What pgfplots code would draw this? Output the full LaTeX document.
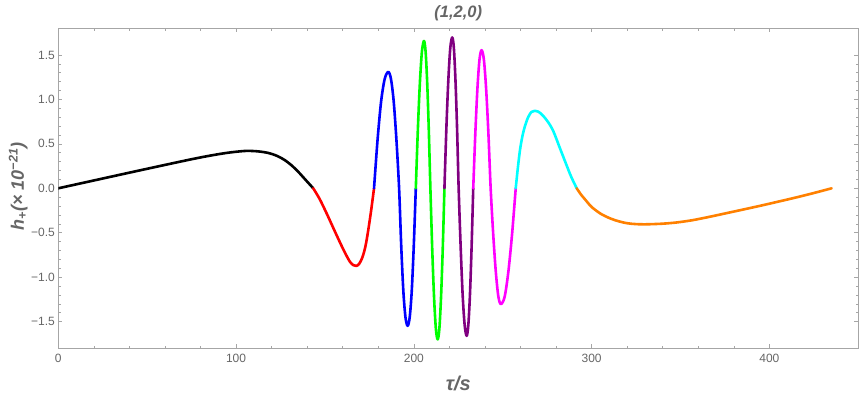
\documentclass[border=0pt]{standalone}
\usepackage{fontspec}
\setmainfont{Liberation Sans}
\usepackage{pgfplots}
\pgfplotsset{compat=1.18}
\definecolor{mmaorange}{rgb}{1,0.5,0}
\definecolor{mmapurple}{rgb}{0.5,0,0.5}
\definecolor{mmagreen}{rgb}{0,1,0}
\definecolor{mmamagenta}{rgb}{1,0,1}
\definecolor{mmacyan}{rgb}{0,1,1}
\definecolor{mmared}{rgb}{1,0,0}
\definecolor{mmablue}{rgb}{0,0,1}
\definecolor{framegray}{gray}{0.65}
\definecolor{labelgray}{gray}{0.4}
\begin{document}
\begin{tikzpicture}
\begin{axis}[
  scale only axis, width=800pt, height=320pt,
  xmin=0, xmax=450, ymin=-1.8, ymax=1.8,
  axis line style={framegray, line width=0.8pt},
  every tick/.style={framegray, line width=0.6pt},
  major tick length=4pt, minor tick length=2.5pt,
  xtick={0,100,200,300,400}, xticklabels={0,100,200,300,400},
  minor x tick num=4,
  ytick={-1.5,-1,-0.5,0,0.5,1,1.5},
  yticklabels={−1.5,−1.0,−0.5,0.0,0.5,1.0,1.5},
  minor y tick num=4,
  tick label style={font=\fontsize{12}{14}\selectfont, text=labelgray},
  xticklabel style={yshift=-2pt},
  every axis plot/.append style={line width=2.6pt, smooth, line cap=round, line join=round},
]
\addplot[black] coordinates {(0,0) (20,0.088) (40,0.176) (60,0.263) (75,0.327) (85,0.366) (95,0.399) (105,0.42) (112,0.416) (118,0.398) (123,0.365) (127,0.322) (131,0.262) (135,0.185) (139,0.097) (143.4,0)};
\addplot[mmared] coordinates {(143.4,0) (147,-0.12) (151,-0.285) (155,-0.46) (158,-0.59) (161,-0.715) (164,-0.825) (166,-0.865) (167.7,-0.873) (169.3,-0.848) (171,-0.78) (172.7,-0.66) (174.2,-0.49) (175.9,-0.26) (177.6,0)};
\addplot[mmablue] coordinates {(177.6,0) (179.6,0.55) (181.6,0.98) (183.6,1.23) (185.6,1.31) (187.13,1.23) (188.65,0.98) (190.18,0.55) (191.7,0) (192.9,-0.65) (194.1,-1.16) (195.3,-1.454) (196.5,-1.547) (197.65,-1.454) (198.8,-1.16) (199.95,-0.65) (201.1,0)};
\addplot[mmagreen] coordinates {(201.1,0) (202.25,0.66) (203.4,1.19) (204.55,1.54) (205.7,1.658) (206.6,1.54) (207.5,1.19) (208.4,0.66) (209.3,0) (210.33,-0.68) (211.35,-1.22) (212.38,-1.58) (213.4,-1.70) (214.35,-1.58) (215.3,-1.22) (216.25,-0.68) (217.2,0)};
\addplot[mmapurple] coordinates {(217.2,0) (218.3,0.68) (219.4,1.22) (220.5,1.58) (221.6,1.697) (222.5,1.58) (223.4,1.22) (224.3,0.68) (225.2,0) (226.33,-0.66) (227.45,-1.20) (228.58,-1.54) (229.7,-1.66) (230.63,-1.54) (231.55,-1.20) (232.48,-0.66) (233.4,0)};
\addplot[mmamagenta] coordinates {(233.4,0) (234.58,0.62) (235.75,1.12) (236.93,1.45) (238.1,1.554) (239.38,1.45) (240.65,1.12) (241.93,0.62) (243.2,0) (244.65,-0.52) (246.1,-0.94) (247.55,-1.22) (249.0,-1.303) (251.08,-1.22) (253.15,-0.94) (255.23,-0.52) (257.3,0)};
\addplot[mmacyan] coordinates {(257.3,0) (258.5,0.23) (259.7,0.43) (261,0.58) (262.5,0.70) (264.3,0.80) (266.2,0.86) (268.1,0.872) (270,0.862) (272.5,0.82) (275.5,0.745) (278.4,0.645) (282,0.46) (285.5,0.28) (288.5,0.13) (291.6,0)};
\addplot[mmaorange] coordinates {(291.6,0) (294,-0.07) (296.5,-0.13) (300,-0.21) (305,-0.285) (310,-0.335) (315,-0.37) (320,-0.393) (325,-0.403) (331,-0.405) (340,-0.398) (348,-0.384) (357,-0.358) (366.5,-0.320) (376,-0.279) (385,-0.240) (395,-0.196) (405,-0.150) (415,-0.103) (425,-0.053) (435,0)};
\end{axis}
\node[font=\fontsize{16.5}{18}\selectfont\bfseries\itshape, text=labelgray] at ([yshift=15.3pt]current axis.north) {(1,2,0)};
\node[font=\fontsize{20}{22}\selectfont\bfseries\itshape, text=labelgray] at ([yshift=-35pt]current axis.south) {τ/s};
\node[rotate=90, font=\fontsize{18}{20}\selectfont\bfseries\itshape, text=labelgray] at ([xshift=-40pt,yshift=2pt]current axis.west) {h\textsubscript{+}(× 10\textsuperscript{−21})};
\pgfresetboundingbox
\path[use as bounding box] ([xshift=-58.3pt,yshift=-46.7pt]current axis.south west) rectangle ([xshift=0.7pt,yshift=28.3pt]current axis.north east);
\end{tikzpicture}
\end{document}
